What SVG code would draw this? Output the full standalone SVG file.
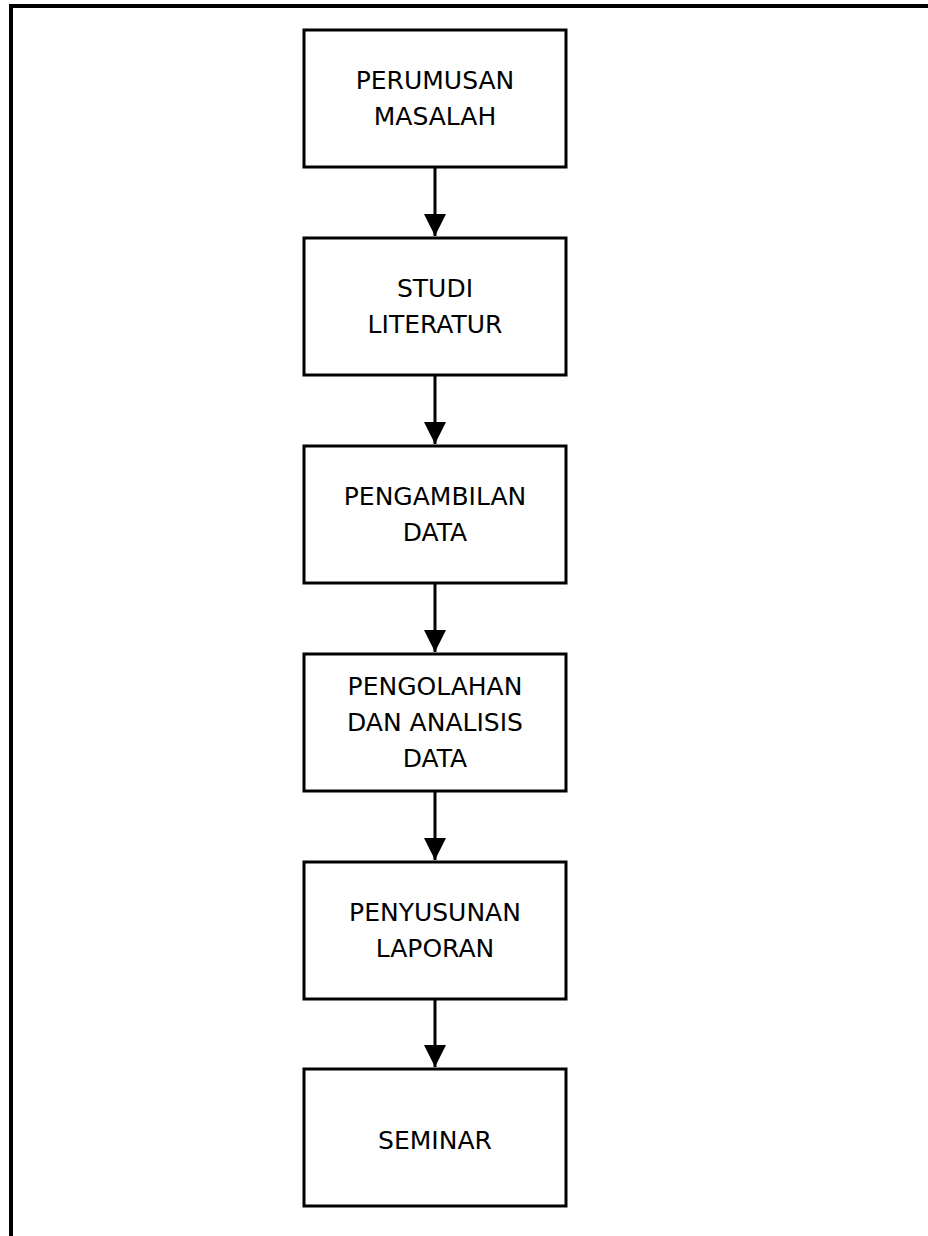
<svg xmlns="http://www.w3.org/2000/svg" width="928" height="1236" viewBox="0 0 928 1236">
<style>
.box{fill:#ffffff;stroke:#000;stroke-width:3}
.t{font-family:"DejaVu Sans",Verdana,sans-serif;font-size:25px;fill:#000;text-anchor:middle}
.c{stroke:#000;stroke-width:3;fill:none}
</style>
<defs>
<marker id="ah" markerUnits="userSpaceOnUse" markerWidth="22" markerHeight="22" viewBox="0 0 22 22" refX="22" refY="11" orient="auto">
<path d="M0,0 L22,11 L0,22 Z" fill="#000"/>
</marker>
</defs>
<rect x="0" y="0" width="928" height="1236" fill="#fff"/>
<g id="frame">
<line x1="9" y1="6" x2="928" y2="6" stroke="#000" stroke-width="4"/>
<line x1="11" y1="4" x2="11" y2="1236" stroke="#000" stroke-width="4"/>
</g>
<g id="n1"><rect class="box" x="304" y="30" width="262" height="137"/><text class="t" x="435" y="89">PERUMUSAN</text><text class="t" x="435" y="125">MASALAH</text></g>
<g id="n2"><rect class="box" x="304" y="238" width="262" height="137"/><text class="t" x="435" y="297">STUDI</text><text class="t" x="435" y="333">LITERATUR</text></g>
<g id="n3"><rect class="box" x="304" y="446" width="262" height="137"/><text class="t" x="435" y="505">PENGAMBILAN</text><text class="t" x="435" y="541">DATA</text></g>
<g id="n4"><rect class="box" x="304" y="654" width="262" height="137"/><text class="t" x="435" y="695">PENGOLAHAN</text><text class="t" x="435" y="731">DAN ANALISIS</text><text class="t" x="435" y="767">DATA</text></g>
<g id="n5"><rect class="box" x="304" y="862" width="262" height="137"/><text class="t" x="435" y="921">PENYUSUNAN</text><text class="t" x="435" y="957">LAPORAN</text></g>
<g id="n6"><rect class="box" x="304" y="1069" width="262" height="137"/><text class="t" x="435" y="1149">SEMINAR</text></g>
<g id="connectors">
<line class="c" x1="435" y1="168" x2="435" y2="236" marker-end="url(#ah)"/>
<line class="c" x1="435" y1="376" x2="435" y2="444" marker-end="url(#ah)"/>
<line class="c" x1="435" y1="584" x2="435" y2="652" marker-end="url(#ah)"/>
<line class="c" x1="435" y1="792" x2="435" y2="860" marker-end="url(#ah)"/>
<line class="c" x1="435" y1="1000" x2="435" y2="1067" marker-end="url(#ah)"/>
</g>
</svg>
